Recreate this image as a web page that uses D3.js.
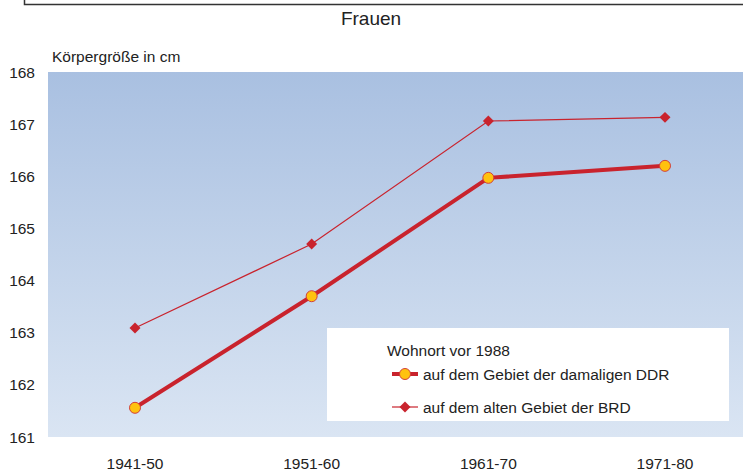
<!DOCTYPE html>
<html>
<head>
<meta charset="utf-8">
<script src="https://cdn.jsdelivr.net/npm/d3@7"></script>
<style>
  body { margin: 0; background: #fff; }
  text { font-family: "Liberation Sans", Arial, sans-serif; fill: #222; }
</style>
</head>
<body>
<svg id="chart" width="743" height="472"></svg>
<script>
var decades = ["1941-50", "1951-60", "1961-70", "1971-80"];
var ddrValues = [161.56, 163.70, 165.97, 166.20];
var brdValues = [163.09, 164.70, 167.06, 167.13];
var yTicks = [161, 162, 163, 164, 165, 166, 167, 168];

var svg = d3.select("#chart");
var plotLeft = 48, plotRight = 743, plotTop = 72, plotBottom = 437;

// frame line at the top
svg.append("path")
    .attr("d", "M24.5,0 V4.5 H743")
    .attr("fill", "none")
    .attr("stroke", "#333")
    .attr("stroke-width", 1.5);

svg.append("text")
    .attr("x", 371).attr("y", 25)
    .attr("text-anchor", "middle")
    .style("font-size", "19px")
    .text("Frauen");

svg.append("text")
    .attr("x", 52).attr("y", 62)
    .style("font-size", "15.5px")
    .text("Körpergröße in cm");

var x = d3.scalePoint()
    .domain(decades)
    .range([135, 665]);

var y = d3.scaleLinear()
    .domain([161, 168])
    .range([plotBottom, plotTop]);

var defs = svg.append("defs");
var grad = defs.append("linearGradient")
    .attr("id", "bg").attr("x1", 0).attr("y1", 0).attr("x2", 0).attr("y2", 1);
grad.append("stop").attr("offset", "0%").attr("stop-color", "#a9c0e1");
grad.append("stop").attr("offset", "100%").attr("stop-color", "#dae5f3");

svg.append("rect")
    .attr("x", plotLeft).attr("y", plotTop)
    .attr("width", plotRight - plotLeft).attr("height", plotBottom - plotTop)
    .attr("fill", "url(#bg)");

// y axis labels
svg.append("g")
  .selectAll("text")
  .data(yTicks)
  .enter().append("text")
    .attr("x", 35)
    .attr("y", d => y(d) + 5.5)
    .attr("text-anchor", "end")
    .style("font-size", "15.5px")
    .text(d => d);

// x axis labels
svg.append("g")
  .selectAll("text")
  .data(decades)
  .enter().append("text")
    .attr("x", d => x(d))
    .attr("y", 469)
    .attr("text-anchor", "middle")
    .style("font-size", "15.5px")
    .text(d => d);

var red = "#c9232d";

var line = d3.line()
    .x((d, i) => x(decades[i]))
    .y(d => y(d));

// legend box
svg.append("rect")
    .attr("x", 327).attr("y", 328)
    .attr("width", 402).attr("height", 93)
    .attr("fill", "#fff");

svg.append("path")
    .datum(brdValues)
    .attr("d", line)
    .attr("fill", "none")
    .attr("stroke", red)
    .attr("stroke-width", 1.2);

svg.append("path")
    .datum(ddrValues)
    .attr("d", line)
    .attr("fill", "none")
    .attr("stroke", red)
    .attr("stroke-width", 4);

var diamond = d3.symbol().type(d3.symbolSquare).size(60);

svg.append("g")
  .selectAll("path")
  .data(brdValues)
  .enter().append("path")
    .attr("d", diamond)
    .attr("transform", (d, i) => "translate(" + x(decades[i]) + "," + y(d) + ") rotate(45)")
    .attr("fill", red);

svg.append("g")
  .selectAll("circle")
  .data(ddrValues)
  .enter().append("circle")
    .attr("cx", (d, i) => x(decades[i]))
    .attr("cy", d => y(d))
    .attr("r", 5.5)
    .attr("fill", "#ffc20e")
    .attr("stroke", "#d2403a")
    .attr("stroke-width", 1);

// legend
var lg = svg.append("g");
lg.append("text")
    .attr("x", 387).attr("y", 356)
    .style("font-size", "15.5px")
    .text("Wohnort vor 1988");

lg.append("line")
    .attr("x1", 392).attr("x2", 418).attr("y1", 374).attr("y2", 374)
    .attr("stroke", red).attr("stroke-width", 4);
lg.append("circle")
    .attr("cx", 405).attr("cy", 374).attr("r", 5.5)
    .attr("fill", "#ffc20e").attr("stroke", "#d2403a").attr("stroke-width", 1);
lg.append("text")
    .attr("x", 423).attr("y", 379.5)
    .style("font-size", "15.5px")
    .text("auf dem Gebiet der damaligen DDR");

lg.append("line")
    .attr("x1", 392).attr("x2", 418).attr("y1", 407).attr("y2", 407)
    .attr("stroke", red).attr("stroke-width", 1.2);
lg.append("path")
    .attr("d", diamond)
    .attr("transform", "translate(405,407) rotate(45)")
    .attr("fill", red);
lg.append("text")
    .attr("x", 423).attr("y", 412.5)
    .style("font-size", "15.5px")
    .text("auf dem alten Gebiet der BRD");
</script>
</body>
</html>
